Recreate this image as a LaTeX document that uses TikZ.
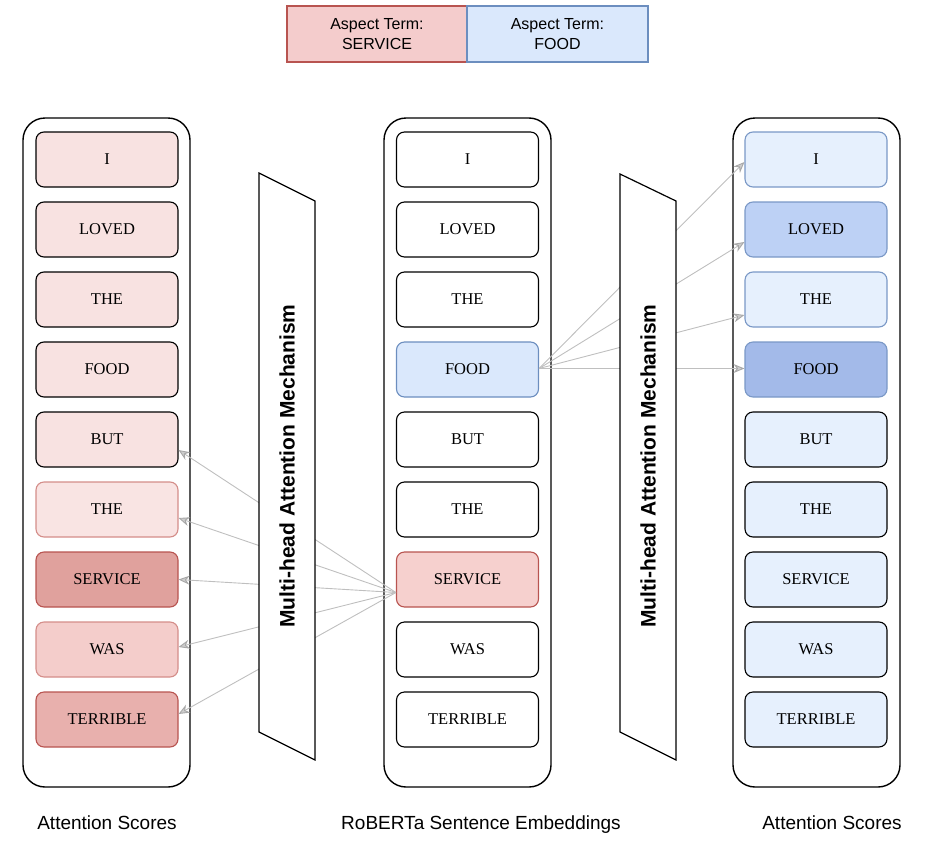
\documentclass[tikz,border=0pt]{standalone}
\usepackage{fontspec}
\setmainfont{Liberation Serif}
\setsansfont{Liberation Sans}
\usetikzlibrary{arrows.meta,positioning,calc}
\definecolor{redS}{HTML}{B85450}
\definecolor{redL}{HTML}{D48D89}
\definecolor{blueS}{HTML}{6C8EBF}
\definecolor{blueB}{HTML}{7A98C6}
\definecolor{legR}{HTML}{F4CCCC}
\definecolor{legB}{HTML}{DAE8FC}
\definecolor{pk1}{HTML}{F8E2E1}
\definecolor{pk2}{HTML}{F9E4E3}
\definecolor{pk3}{HTML}{E0A19D}
\definecolor{pk4}{HTML}{F4CDCB}
\definecolor{pk5}{HTML}{E8B0AD}
\definecolor{mPink}{HTML}{F6D0CE}
\definecolor{bl1}{HTML}{E6F0FD}
\definecolor{bl2}{HTML}{BDD1F5}
\definecolor{bl3}{HTML}{A3BAE9}
\definecolor{arr}{HTML}{BFBFBF}
\definecolor{arrtip}{HTML}{A8A8A8}
\definecolor{arrfill}{HTML}{CDCDCD}
\tikzset{
  word/.style={draw=black, line width=1.1pt, rounded corners=8pt, minimum width=142pt, minimum height=55pt, inner sep=0pt, font=\fontsize{16.5}{18}\selectfont},
  column/.style={draw=black, line width=1.4pt, rounded corners=22pt, minimum width=167pt, minimum height=669pt, inner sep=0pt},
  legend/.style={line width=1.2pt, minimum height=56pt, inner sep=0pt, align=center, font=\sffamily\fontsize{16}{20}\selectfont},
  caption/.style={font=\sffamily\fontsize{19}{22}\selectfont, inner sep=0pt, anchor=base},
  attn/.style={draw=arr, line width=0.9pt, -{Stealth[length=11pt,width=9pt,inset=3.5pt,color=arrtip,fill=arrfill]}},
  mham/.style={draw=black, line width=1.2pt, fill=white},
  mhtext/.style={rotate=90, font=\sffamily\bfseries\fontsize{21}{25}\selectfont, inner sep=0pt}
}
\begin{document}
\begin{tikzpicture}[x=1pt,y=-1pt]
\useasboundingbox (0,0) rectangle (932,846);
% legend
\node[legend, draw=redS, fill=legR, minimum width=180pt] (legS) at (377,34) {Aspect Term:\\SERVICE};
\node[legend, draw=blueS, fill=legB, minimum width=181pt] (legF) at (557.5,34) {Aspect Term:\\FOOD};
% columns
\node[column] (colL) at (106.5,452.5) {};
\node[column] (colM) at (467.5,452.5) {};
\node[column] (colR) at (816.5,452.5) {};
% left words
\node[word, fill=pk1] (l1) at (107,159.5) {I};
\node[word, fill=pk1] (l2) at (107,229.5) {LOVED};
\node[word, fill=pk1] (l3) at (107,299.5) {THE};
\node[word, fill=pk1] (l4) at (107,369.5) {FOOD};
\node[word, fill=pk1] (l5) at (107,439.5) {BUT};
\node[word, fill=pk2, draw=redL] (l6) at (107,509.5) {THE};
\node[word, fill=pk3, draw=redS] (l7) at (107,579.5) {SERVICE};
\node[word, fill=pk4, draw=redL] (l8) at (107,649.5) {WAS};
\node[word, fill=pk5, draw=redS] (l9) at (107,719.5) {TERRIBLE};
% middle words
\node[word, fill=white] (m1) at (467.5,159.5) {I};
\node[word, fill=white] (m2) at (467.5,229.5) {LOVED};
\node[word, fill=white] (m3) at (467.5,299.5) {THE};
\node[word, fill=legB, draw=blueS] (m4) at (467.5,369.5) {FOOD};
\node[word, fill=white] (m5) at (467.5,439.5) {BUT};
\node[word, fill=white] (m6) at (467.5,509.5) {THE};
\node[word, fill=mPink, draw=redS] (m7) at (467.5,579.5) {SERVICE};
\node[word, fill=white] (m8) at (467.5,649.5) {WAS};
\node[word, fill=white] (m9) at (467.5,719.5) {TERRIBLE};
% right words
\node[word, fill=bl1, draw=blueB] (r1) at (816,159.5) {I};
\node[word, fill=bl2, draw=blueB] (r2) at (816,229.5) {LOVED};
\node[word, fill=bl1, draw=blueB] (r3) at (816,299.5) {THE};
\node[word, fill=bl3, draw=blueB] (r4) at (816,369.5) {FOOD};
\node[word, fill=bl1] (r5) at (816,439.5) {BUT};
\node[word, fill=bl1] (r6) at (816,509.5) {THE};
\node[word, fill=bl1] (r7) at (816,579.5) {SERVICE};
\node[word, fill=bl1] (r8) at (816,649.5) {WAS};
\node[word, fill=bl1] (r9) at (816,719.5) {TERRIBLE};
% attention arrows (service)
\coordinate (srcS) at ([yshift=-13pt]m7.west);
\draw[attn] (srcS) -- ([yshift=-10.5pt]l5.east);
\draw[attn] (srcS) -- ([yshift=-8.5pt]l6.east);
\draw[attn] (srcS) -- (l7.east);
\draw[attn] (srcS) -- ([yshift=2.5pt]l8.east);
\draw[attn] (srcS) -- ([yshift=5.5pt]l9.east);
% attention arrows (food)
\coordinate (srcF) at ([yshift=1pt]m4.east);
\draw[attn] (srcF) -- ([yshift=-2.5pt]r1.west);
\draw[attn] (srcF) -- ([yshift=-12.5pt]r2.west);
\draw[attn] (srcF) -- ([yshift=-15.5pt]r3.west);
\draw[attn] (srcF) -- ([yshift=1pt]r4.west);
% multi-head attention blocks
\draw[mham] (259,173) -- (315,201) -- (315,760) -- (259,732) -- cycle;
\node[mhtext] (mhL) at (287,466) {Multi-head Attention Mechanism};
\draw[mham] (620,174) -- (676,201) -- (676,760) -- (620,732) -- cycle;
\node[mhtext] (mhR) at (648,466) {Multi-head Attention Mechanism};
% captions
\node[caption] (capL) at (107,829.5) {Attention Scores};
\node[caption] (capM) at (481,829.5) {RoBERTa Sentence Embeddings};
\node[caption] (capR) at (832,829.5) {Attention Scores};
\end{tikzpicture}
\end{document}
